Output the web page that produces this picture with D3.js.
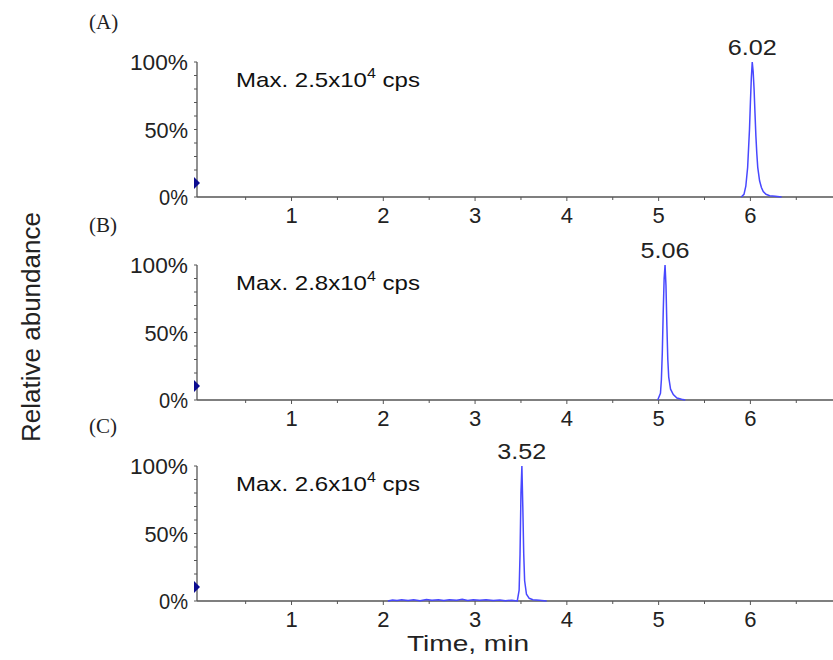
<!DOCTYPE html>
<html>
<head>
<meta charset="utf-8">
<script src="https://cdn.jsdelivr.net/npm/d3@7"></script>
<style>
  body { margin: 0; background: #fff; }
</style>
</head>
<body>
<svg id="chart" width="833" height="660" font-family="'Liberation Sans', Arial, sans-serif"></svg>
<script>
// panel labels and annotations
const panelNames = ["(A)", "(B)", "(C)"];
const maxCps = ["2.5", "2.8", "2.6"];
const peakLabels = ["6.02", "5.06", "3.52"];
const peakTimes = [6.02, 5.07, 3.51];

// x ticks (min) and y ticks (%)
const xTicks = [1, 2, 3, 4, 5, 6];
const yTicks = [0, 50, 100];

// traces: [time (min), relative abundance (%)]
const traceA = [[5.90,0],[5.93,2],[5.95,8],[5.97,22],[5.99,50],[6.00,70],[6.01,88],[6.02,100],
  [6.03,93],[6.04,80],[6.05,62],[6.06,45],[6.07,32],[6.08,22],[6.10,12],[6.12,7],[6.14,4],
  [6.17,2],[6.21,1],[6.27,0.5],[6.34,0]];
const traceB = [[4.99,0],[5.02,5],[5.03,15],[5.04,35],[5.05,65],[5.06,90],[5.07,100],[5.08,85],
  [5.09,55],[5.10,30],[5.11,17],[5.13,8],[5.16,4],[5.20,1.5],[5.25,0.5],[5.29,0]];
const traceC = [[2.05,0],[2.1,0.8],[2.15,0.3],[2.2,1],[2.27,0.4],[2.33,0.9],[2.4,0.2],[2.47,1.1],
  [2.53,0.5],[2.6,1],[2.66,0.3],[2.72,0.9],[2.8,0.6],[2.86,1.2],[2.92,0.4],[2.98,1],[3.05,0.5],
  [3.12,0.9],[3.2,0.3],[3.27,0.8],[3.33,0.2],[3.4,0.6],[3.46,0],[3.48,8],[3.49,35],[3.50,80],
  [3.51,100],[3.52,70],[3.53,35],[3.54,15],[3.56,5],[3.59,2],[3.63,1],[3.70,0.5],[3.78,0]];
const traces = [traceA, traceB, traceC];

const svg = d3.select("#chart");
const axisYs = [197, 400, 601];   // baseline (0%) of each panel
const panelH = 135;

const x = d3.scaleLinear().domain([-0.03, 6.9]).range([197, 833]);

const axisColor = "#555";
const textColor = "#222";

panelNames.forEach((name, i) => {
  const y0 = axisYs[i];
  const y = d3.scaleLinear().domain([0, 100]).range([y0, y0 - panelH]);
  const g = svg.append("g");

  // x axis line + ticks
  g.append("line").attr("x1", x(-0.03)).attr("x2", 833).attr("y1", y0).attr("y2", y0)
    .attr("stroke", axisColor).attr("stroke-width", 1.3);
  const minor = d3.range(0.5, 6.9, 1);
  g.selectAll(".xminor").data(minor).join("line")
    .attr("x1", d => x(d)).attr("x2", d => x(d)).attr("y1", y0).attr("y2", y0 + 3)
    .attr("stroke", axisColor);
  g.selectAll(".xmajor").data(xTicks).join("line")
    .attr("x1", d => x(d)).attr("x2", d => x(d)).attr("y1", y0).attr("y2", y0 + 4)
    .attr("stroke", axisColor);
  g.selectAll(".xlab").data(xTicks).join("text")
    .attr("x", d => x(d)).attr("y", y0 + 26)
    .attr("text-anchor", "middle").attr("font-size", 22).attr("fill", textColor)
    .text(d => d);

  // y axis line + ticks
  g.append("line").attr("x1", x(-0.03)).attr("x2", x(-0.03)).attr("y1", y(0)).attr("y2", y(100))
    .attr("stroke", axisColor).attr("stroke-width", 1.3);
  g.selectAll(".yminor").data(d3.range(0, 101, 10)).join("line")
    .attr("x1", x(-0.03) - 3).attr("x2", x(-0.03)).attr("y1", d => y(d)).attr("y2", d => y(d))
    .attr("stroke", axisColor);
  g.selectAll(".ylab").data(yTicks).join("text")
    .attr("x", 188).attr("y", d => y(d) + 8)
    .attr("text-anchor", "end").attr("font-size", 22).attr("fill", textColor)
    .attr("textLength", d => (d + "%").length * 14.5).attr("lengthAdjust", "spacingAndGlyphs")
    .text(d => d + "%");

  // small marker at left
  const mx = x(-0.03);
  g.append("path")
    .attr("d", `M${mx - 3},${y0 - 20} L${mx + 3},${y0 - 14} L${mx - 3},${y0 - 8} Z`)
    .attr("fill", "#0c0c90");

  // trace
  const line = d3.line().x(d => x(d[0])).y(d => y(d[1]));
  g.append("path").datum(traces[i]).attr("d", line)
    .attr("fill", "none").attr("stroke", "#4848ff").attr("stroke-width", 1.5);

  // peak label
  g.append("text").attr("x", x(peakTimes[i])).attr("y", y(100) - 7)
    .attr("text-anchor", "middle").attr("font-size", 22).attr("fill", textColor)
    .attr("textLength", 49).attr("lengthAdjust", "spacingAndGlyphs")
    .text(peakLabels[i]);

  // max intensity note
  const t = g.append("text").attr("x", 236).attr("y", y(100) + 25)
    .attr("font-size", 21).attr("fill", "#111")
    .attr("textLength", 184).attr("lengthAdjust", "spacingAndGlyphs");
  t.append("tspan").text("Max. " + maxCps[i] + "x10");
  t.append("tspan").attr("font-size", 14).attr("dy", -9).text("4");
  t.append("tspan").attr("dy", 9).text(" cps");

  // panel label
  svg.append("text").attr("x", 89).attr("y", y0 - panelH - 33)
    .attr("font-family", "'Liberation Serif', 'Times New Roman', serif")
    .attr("font-size", 21).attr("fill", textColor).text(name);
});

// axis titles
svg.append("text").attr("x", 468).attr("y", 651).attr("text-anchor", "middle")
  .attr("font-size", 22).attr("fill", textColor)
  .attr("textLength", 122).attr("lengthAdjust", "spacingAndGlyphs")
  .text("Time, min");
svg.append("text").attr("transform", "translate(40,327) rotate(-90)")
  .attr("text-anchor", "middle").attr("font-size", 26).attr("fill", textColor)
  .text("Relative abundance");
</script>
</body>
</html>
